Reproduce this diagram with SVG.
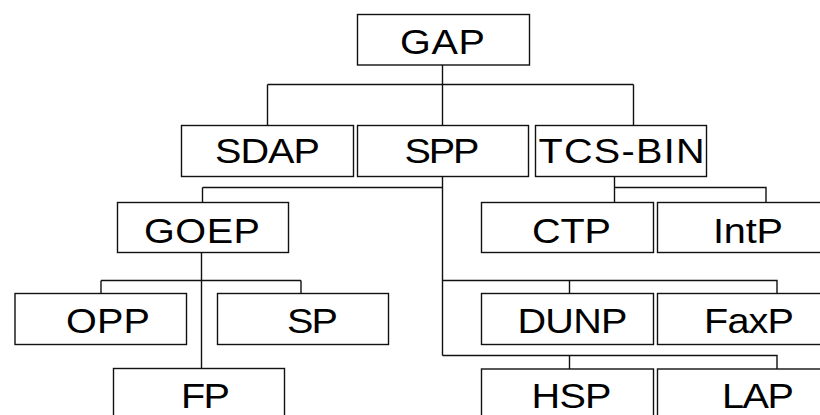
<svg xmlns="http://www.w3.org/2000/svg" width="820" height="415" viewBox="0 0 820 415">
<style>
.box{fill:#fff;stroke:#111;stroke-width:1.4}
.lbl{font-family:"Liberation Sans",Arial,sans-serif;font-size:36px;fill:#000;text-anchor:middle}
.conn path{fill:none;stroke:#111;stroke-width:1.4}
</style>
<rect width="820" height="415" fill="#fff"/>
<g class="conn" id="connectors">
<path d="M442.5 65 V84.5 M267.5 84.5 H633.5 M267.5 84.5 V125.5 M442.5 84.5 V125.5 M633.5 84.5 V125.5"/>
<path d="M442.5 176.5 V355.5 M202.5 187.5 H442.5 M202.5 187.5 V202.5"/>
<path d="M614.5 176.5 V202.5 M614.5 187.5 H766 V202.5"/>
<path d="M201.5 252.5 V368.5 M101 280.5 H301 M101 280.5 V293.5 M301 280.5 V293.5"/>
<path d="M442.5 280.5 H777 V293.5 M569.5 280.5 V293.5"/>
<path d="M442.5 355.5 H777 V369 M569.5 355.5 V369"/>
</g>
<g id="GAP"><rect class="box" x="357.5" y="14.5" width="172" height="50.5"/><text class="lbl" transform="translate(442.5 54) scale(1.1 1)" textLength="77.3" lengthAdjust="spacing">GAP</text></g>
<g id="SDAP"><rect class="box" x="181.5" y="125.5" width="172" height="51"/><text class="lbl" transform="translate(267.5 163) scale(1.1 1)" textLength="95.5" lengthAdjust="spacing">SDAP</text></g>
<g id="SPP"><rect class="box" x="357.5" y="125.5" width="171" height="51"/><text class="lbl" transform="translate(442 163) scale(1.1 1)" textLength="68.2" lengthAdjust="spacing">SPP</text></g>
<g id="TCS-BIN"><rect class="box" x="535.5" y="125.5" width="171" height="51"/><text class="lbl" transform="translate(621.5 163) scale(1.1 1)" textLength="151" lengthAdjust="spacing">TCS-BIN</text></g>
<g id="GOEP"><rect class="box" x="117.5" y="202.5" width="171" height="50"/><text class="lbl" transform="translate(202 242.5) scale(1.1 1)" textLength="105.5" lengthAdjust="spacing">GOEP</text></g>
<g id="CTP"><rect class="box" x="481.5" y="202.5" width="172" height="50"/><text class="lbl" transform="translate(571.5 242.5) scale(1.1 1)" textLength="71.8" lengthAdjust="spacing">CTP</text></g>
<g id="IntP"><rect class="box" x="657.5" y="202.5" width="172" height="50"/><text class="lbl" transform="translate(748 242.5) scale(1.1 1)" textLength="63.6" lengthAdjust="spacing">IntP</text></g>
<g id="OPP"><rect class="box" x="15" y="293.5" width="171.5" height="51"/><text class="lbl" transform="translate(108 333) scale(1.1 1)" textLength="76.4" lengthAdjust="spacing">OPP</text></g>
<g id="SP"><rect class="box" x="217.5" y="293.5" width="171" height="51"/><text class="lbl" transform="translate(312.5 333) scale(1.1 1)" textLength="46.4" lengthAdjust="spacing">SP</text></g>
<g id="DUNP"><rect class="box" x="481.5" y="293.5" width="172" height="51"/><text class="lbl" transform="translate(572.5 333) scale(1.1 1)" textLength="100" lengthAdjust="spacing">DUNP</text></g>
<g id="FaxP"><rect class="box" x="657.5" y="293.5" width="172" height="51"/><text class="lbl" transform="translate(749 333) scale(1.1 1)" textLength="81.8" lengthAdjust="spacing">FaxP</text></g>
<g id="FP"><rect class="box" x="113.5" y="368.5" width="171" height="60"/><text class="lbl" transform="translate(205.5 408) scale(1.1 1)" textLength="44.5" lengthAdjust="spacing">FP</text></g>
<g id="HSP"><rect class="box" x="481.5" y="369" width="172" height="60"/><text class="lbl" transform="translate(571.5 408) scale(1.1 1)" textLength="72.7" lengthAdjust="spacing">HSP</text></g>
<g id="LAP"><rect class="box" x="657.5" y="369" width="172" height="60"/><text class="lbl" transform="translate(758 408) scale(1.1 1)" textLength="65.5" lengthAdjust="spacing">LAP</text></g>
</svg>
